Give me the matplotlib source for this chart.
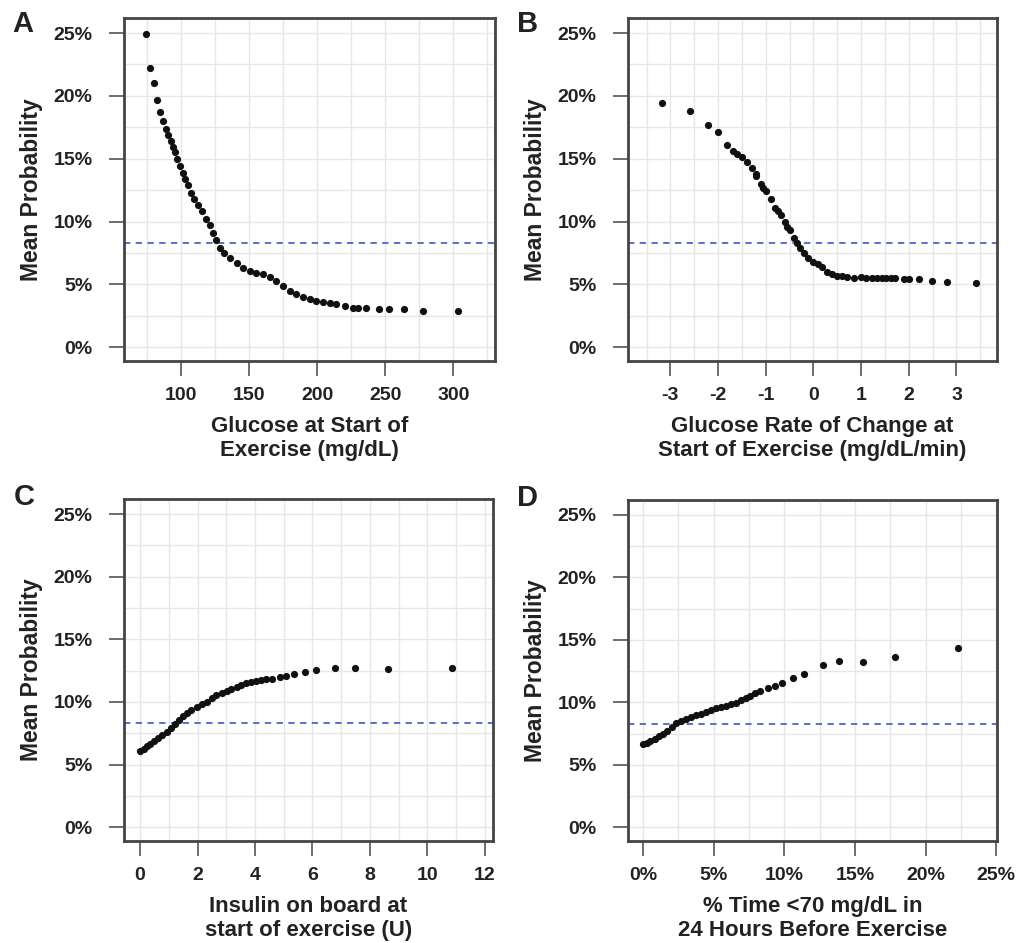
import matplotlib.pyplot as plt
import numpy as np
from matplotlib.ticker import FuncFormatter

plt.rcParams['font.family'] = ['Liberation Sans', 'DejaVu Sans']
plt.rcParams['font.weight'] = 'bold'
plt.rcParams['axes.unicode_minus'] = False

# Panel A: glucose at start of exercise
glucose_x = [74.4, 77.5, 80.5, 82.9, 84.9, 86.8, 89.0, 90.9, 92.7, 94.1, 95.8, 97.5,
             99.5, 101.5, 103.4, 105.1, 107.3, 109.7, 112.4, 115.4, 118.5, 121.4,
             123.8, 126.3, 128.7, 131.7, 136.1, 141.0, 145.8, 150.7, 155.6, 160.4,
             165.3, 170.2, 175.1, 180.0, 184.9, 189.7, 194.6, 199.5, 204.3, 209.2,
             214.1, 220.2, 226.3, 229.9, 236.1, 245.3, 252.6, 264.1, 278.0, 303.1]
glucose_p = [24.9, 22.2, 21.0, 19.7, 18.7, 18.0, 17.4, 16.9, 16.4, 15.9, 15.5, 15.0,
             14.4, 13.9, 13.4, 12.9, 12.3, 11.8, 11.3, 10.8, 10.2, 9.7,
             9.1, 8.5, 7.9, 7.5, 7.1, 6.7, 6.3, 6.1, 5.9, 5.8,
             5.6, 5.25, 4.85, 4.45, 4.2, 4.0, 3.8, 3.7, 3.6, 3.5,
             3.4, 3.25, 3.15, 3.1, 3.1, 3.05, 3.05, 3.0, 2.9, 2.85]

# Panel B: glucose rate of change
roc_x = [-3.17, -2.60, -2.21, -2.00, -1.81, -1.68, -1.60, -1.49, -1.39, -1.29, -1.20,
         -1.20, -1.10, -1.06, -0.99, -0.89, -0.80, -0.75, -0.69, -0.60, -0.55, -0.50,
         -0.40, -0.34, -0.29, -0.20, -0.12, -0.01, 0.10, 0.18, 0.29, 0.39, 0.50, 0.60,
         0.71, 0.85, 0.99, 1.10, 1.22, 1.33, 1.43, 1.53, 1.62, 1.72, 1.89, 2.00, 2.21,
         2.49, 2.80, 3.41]
roc_p = [19.4, 18.8, 17.7, 17.1, 16.1, 15.6, 15.4, 15.1, 14.7, 14.3, 13.8,
         13.6, 13.0, 12.7, 12.4, 11.8, 11.1, 10.8, 10.5, 10.0, 9.6, 9.3,
         8.7, 8.3, 7.9, 7.5, 7.1, 6.8, 6.6, 6.4, 6.0, 5.8, 5.7, 5.65,
         5.6, 5.5, 5.55, 5.5, 5.5, 5.5, 5.5, 5.5, 5.5, 5.5, 5.45, 5.45, 5.45,
         5.3, 5.2, 5.1]

# Panel C: insulin on board
iob_x = [0.0, 0.12, 0.23, 0.35, 0.49, 0.64, 0.77, 0.93, 1.07, 1.22, 1.35, 1.50,
         1.64, 1.79, 1.97, 2.14, 2.32, 2.49, 2.66, 2.84, 3.01, 3.18, 3.36, 3.53,
         3.70, 3.88, 4.05, 4.22, 4.40, 4.61, 4.86, 5.09, 5.36, 5.73, 6.13, 6.79,
         7.50, 8.62, 10.86]
iob_p = [6.05, 6.27, 6.45, 6.67, 6.87, 7.11, 7.33, 7.62, 7.91, 8.26, 8.58, 8.87,
         9.14, 9.38, 9.59, 9.81, 10.02, 10.29, 10.53, 10.74, 10.90, 11.03, 11.19, 11.35,
         11.49, 11.62, 11.67, 11.73, 11.81, 11.86, 11.97, 12.07, 12.21, 12.42, 12.53, 12.69,
         12.71, 12.66, 12.69]

# Panel D: % time <70 mg/dL in previous 24 h
hypo_x = [0.0, 0.28, 0.52, 0.81, 1.12, 1.40, 1.71, 2.01, 2.34, 2.65, 3.01, 3.37,
          3.72, 4.08, 4.43, 4.79, 5.14, 5.50, 5.85, 6.21, 6.56, 6.92, 7.27, 7.58,
          7.93, 8.29, 8.81, 9.35, 9.80, 10.58, 11.41, 12.71, 13.85, 15.60, 17.85, 22.26]
hypo_p = [6.63, 6.76, 6.92, 7.08, 7.29, 7.48, 7.72, 7.99, 8.31, 8.49, 8.63, 8.79,
          8.95, 9.08, 9.21, 9.37, 9.53, 9.64, 9.72, 9.83, 9.98, 10.17, 10.35, 10.51,
          10.75, 10.94, 11.13, 11.34, 11.55, 11.98, 12.24, 12.99, 13.28, 13.20, 13.60, 14.35]

overall_p = 8.3

W, H = 1020, 943
fig = plt.figure(figsize=(W / 100, H / 100), dpi=100)

def box(l, t, r, b):
    return [l / W, 1 - b / H, (r - l) / W, (b - t) / H]

panels = [
    dict(letter='A', rect=box(124, 18, 495, 361), x=glucose_x, y=glucose_p, ly=0.982,
         xlim=(58.5, 330.5), xt=[100, 150, 200, 250, 300], xminor=np.arange(75, 330, 25),
         xlabel='Glucose at Start of\nExercise (mg/dL)', pct_x=False),
    dict(letter='B', rect=box(628, 18, 997, 361), x=roc_x, y=roc_p, ly=0.982,
         xlim=(-3.89, 3.85), xt=[-3, -2, -1, 0, 1, 2, 3], xminor=np.arange(-3.5, 3.6, 0.5),
         xlabel='Glucose Rate of Change at\nStart of Exercise (mg/dL/min)', pct_x=False),
    dict(letter='C', rect=box(124, 499, 493, 841), x=iob_x, y=iob_p, ly=1.005,
         xlim=(-0.56, 12.29), xt=[0, 2, 4, 6, 8, 10, 12], xminor=np.arange(0, 12.1, 1),
         xlabel='Insulin on board at\nstart of exercise (U)', pct_x=False),
    dict(letter='D', rect=box(628, 500, 997, 841), x=hypo_x, y=hypo_p, ly=1.005,
         xlim=(-1.07, 25.05), xt=[0, 5, 10, 15, 20, 25], xminor=np.arange(0, 25.1, 2.5),
         xlabel='% Time <70 mg/dL in\n24 Hours Before Exercise', pct_x=True),
]

pct = FuncFormatter(lambda v, pos: f'{v:.0f}%')
txt = '#222222'

for p in panels:
    ax = fig.add_axes(p['rect'])
    ax.scatter(p['x'], p['y'], s=27, color='#111111', zorder=3, linewidths=0)
    ax.axhline(overall_p, color='#4a66cc', lw=1.3, ls=(0, (3.5, 3)), zorder=2)
    ax.set_xlim(*p['xlim'])
    ax.set_ylim(-1.1, 26.2)
    ax.set_yticks([0, 5, 10, 15, 20, 25])
    ax.set_yticks(np.arange(0, 25.1, 2.5), minor=True)
    ax.set_xticks(p['xt'])
    ax.set_xticks(p['xminor'], minor=True)
    ax.yaxis.set_major_formatter(pct)
    if p['pct_x']:
        ax.xaxis.set_major_formatter(pct)
    ax.grid(True, which='both', color='#e6e6e6', lw=1.0, zorder=0)
    ax.set_axisbelow(True)
    ax.tick_params(which='major', length=11, width=1.2, color='#555555',
                   labelsize=14, labelcolor=txt)
    ax.tick_params(axis='x', which='major', pad=7.5)
    ax.tick_params(axis='y', which='major', pad=11.5)
    ax.tick_params(which='minor', length=0)
    for lab in ax.get_xticklabels() + ax.get_yticklabels():
        lab.set_fontweight('bold')
    for s in ax.spines.values():
        s.set_color('#444444')
        s.set_linewidth(2)
    ax.set_xlabel(p['xlabel'], fontsize=16, fontweight='bold', color=txt,
                  labelpad=9, linespacing=1.2)
    ax.set_ylabel('Mean Probability', fontsize=16.5, fontweight='bold', color=txt,
                  labelpad=8)
    ax.text(-0.3, p['ly'], p['letter'], transform=ax.transAxes, fontsize=21,
            fontweight='bold', color=txt, ha='left', va='center')

fig.savefig('out.png', dpi=100)
